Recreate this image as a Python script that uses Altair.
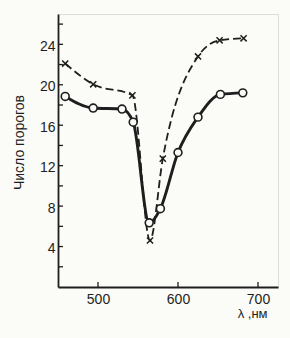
import altair as alt
import pandas as pd

# Solid curve with open circles
circ_wl = [459, 494, 530, 544, 564, 578, 600, 625, 653, 681]
circ_n = [18.85, 17.7, 17.6, 16.3, 6.35, 7.75, 13.3, 16.8, 19.05, 19.2]

# Dashed curve with crosses
cross_wl = [459, 494, 543, 565, 581, 625, 652, 682]
cross_n = [22.1, 20.05, 18.95, 4.6, 12.7, 22.8, 24.4, 24.6]

y_tick_vals = list(range(2, 27, 2))
y_label_vals = [4, 8, 12, 16, 20, 24]
x_tick_vals = [500, 600, 700]

ink = "#1e1e1e"
bg = "#fbfbf7"

circ = pd.DataFrame({"wl": circ_wl, "n": circ_n})
cross = pd.DataFrame({"wl": cross_wl, "n": cross_n})
yt = pd.DataFrame({"v": y_tick_vals})
xt = pd.DataFrame({"v": x_tick_vals})

xs = alt.Scale(domain=[450, 725], nice=False, zero=False)
ys = alt.Scale(domain=[0, 27], nice=False)

xax = alt.Axis(values=x_tick_vals, title="λ ,нм", ticks=False, grid=False,
               labelPadding=5, labelFontSize=14, labelColor=ink,
               domainColor=ink, domainWidth=1.8,
               titleFontSize=13, titleFontWeight="normal", titleColor=ink,
               titleAlign="right", titleX=209, titleY=26, titleBaseline="middle")
yax = alt.Axis(values=y_label_vals, title="Число порогов", ticks=False, grid=False,
               labelPadding=3, labelFontSize=14, labelColor=ink, labelOffset=2,
               domainColor=ink, domainWidth=1.8,
               titleFontSize=14, titleFontWeight="normal", titleColor=ink,
               titleX=-39, titleY=128, titleAngle=270, titleAlign="center",
               titleBaseline="middle")

solid = alt.Chart(circ).mark_line(color=ink, strokeWidth=2.9, interpolate="monotone").encode(
    x=alt.X("wl:Q", scale=xs, axis=xax),
    y=alt.Y("n:Q", scale=ys, axis=yax),
)
dashed = alt.Chart(cross).mark_line(color=ink, strokeWidth=1.8, strokeDash=[8, 4],
                                    interpolate="monotone").encode(
    x=alt.X("wl:Q", scale=xs),
    y=alt.Y("n:Q", scale=ys),
)
circles = alt.Chart(circ).mark_point(shape="circle", size=62, filled=True, fill=bg,
                                     stroke=ink, strokeWidth=1.6, opacity=1).encode(
    x=alt.X("wl:Q", scale=xs),
    y=alt.Y("n:Q", scale=ys),
)
crosses = alt.Chart(cross).mark_point(shape="M-1,-1L1,1M-1,1L1,-1", size=38,
                                      stroke=ink, strokeWidth=1.5, filled=False, opacity=1).encode(
    x=alt.X("wl:Q", scale=xs),
    y=alt.Y("n:Q", scale=ys),
)
yticks = alt.Chart(yt).mark_rule(color=ink, strokeWidth=1.3).encode(
    y=alt.Y("v:Q", scale=ys),
    x=alt.value(0), x2=alt.value(5),
)
xticks = alt.Chart(xt).mark_rule(color=ink, strokeWidth=1.3).encode(
    x=alt.X("v:Q", scale=xs),
    y=alt.value(273), y2=alt.value(268),
)

chart = alt.layer(solid, dashed, yticks, xticks, circles, crosses).properties(
    width=220, height=273,
    autosize=alt.AutoSizeParams(type="none"),
    padding={"left": 58, "top": 14, "right": 12, "bottom": 51},
    background=bg,
).configure_view(stroke=None).configure(font="Liberation Sans")

chart.save("out.html", embed_options={"renderer": "svg", "actions": False})
